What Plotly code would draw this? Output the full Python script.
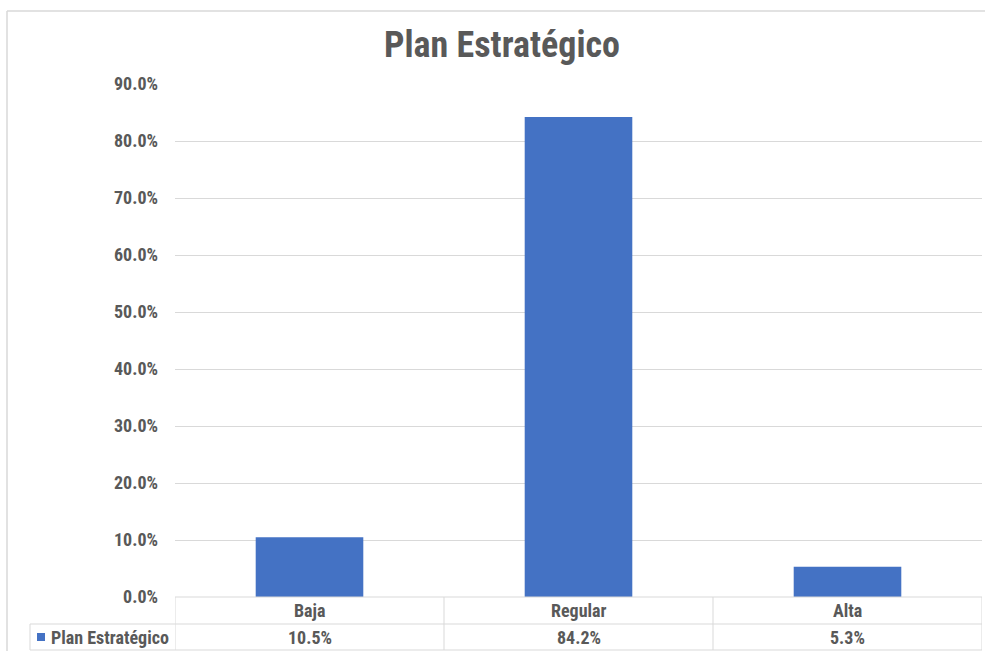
import plotly.graph_objects as go

# Chart data
categories = ["Baja", "Regular", "Alta"]
values = [10.5, 84.2, 5.3]
series_name = "Plan Estratégico"
title_text = "Plan Estratégico"
y_ticks = [0, 10, 20, 30, 40, 50, 60, 70, 80, 90]

W, H = 985, 651
PLOT_L, PLOT_R, PLOT_T, PLOT_B = 175, 982, 84, 597
BAR_COLOR = "#4472C4"
TEXT_COLOR = "#595959"
GRID_COLOR = "#D9D9D9"
FONT = "Liberation Sans Narrow, Arial Narrow, Roboto Condensed, Arial, sans-serif"
TICK_SIZE = 18
TABLE_SIZE = 18

pw = PLOT_R - PLOT_L
ph = PLOT_B - PLOT_T


def px_x(x):
    return (x - PLOT_L) / pw


def px_y(y):
    return (PLOT_B - y) / ph


fig = go.Figure()
fig.add_trace(go.Bar(
    x=list(range(len(categories))),
    y=values,
    name=series_name,
    marker=dict(color=BAR_COLOR, line=dict(width=0)),
    width=0.4,
    showlegend=False,
    hoverinfo="skip",
))

shapes = []
annotations = []

# outer chart border (left and top edges)
shapes.append(dict(type="line", xref="paper", yref="paper",
                   x0=px_x(7), x1=px_x(990), y0=px_y(11), y1=px_y(11),
                   line=dict(color="#D9D9D9", width=1.5)))
shapes.append(dict(type="line", xref="paper", yref="paper",
                   x0=px_x(7), x1=px_x(7), y0=px_y(11), y1=px_y(660),
                   line=dict(color="#D9D9D9", width=1.5)))

# data table grid
row1_y, row2_y, row3_y = PLOT_B, 624, 650
tbl_line = dict(color=GRID_COLOR, width=1)
shapes.append(dict(type="line", xref="paper", yref="paper",
                   x0=0, x1=1, y0=px_y(row1_y), y1=px_y(row1_y), line=tbl_line))
for yy in (row2_y, row3_y):
    shapes.append(dict(type="line", xref="paper", yref="paper",
                       x0=px_x(30), x1=1, y0=px_y(yy), y1=px_y(yy), line=tbl_line))
shapes.append(dict(type="line", xref="paper", yref="paper",
                   x0=px_x(30), x1=px_x(30), y0=px_y(row2_y), y1=px_y(row3_y), line=tbl_line))
for i in range(len(categories) + 1):
    shapes.append(dict(type="line", xref="x", yref="paper",
                       x0=i - 0.5, x1=i - 0.5, y0=px_y(row1_y), y1=px_y(row3_y), line=tbl_line))

# legend key inside table
shapes.append(dict(type="rect", xref="paper", yref="paper",
                   x0=px_x(37), x1=px_x(45), y0=px_y(641), y1=px_y(633),
                   fillcolor=BAR_COLOR, line=dict(width=0)))
annotations.append(dict(xref="paper", yref="paper", x=px_x(49), y=px_y(637),
                        text=f"<b>{series_name}</b>", showarrow=False,
                        xanchor="left", yanchor="middle",
                        font=dict(family=FONT, size=TABLE_SIZE, color=TEXT_COLOR)))

for i, (cat, val) in enumerate(zip(categories, values)):
    annotations.append(dict(xref="x", yref="paper", x=i, y=px_y(610.5),
                            text=f"<b>{cat}</b>", showarrow=False, yanchor="middle",
                            font=dict(family=FONT, size=TABLE_SIZE, color=TEXT_COLOR)))
    annotations.append(dict(xref="x", yref="paper", x=i, y=px_y(637),
                            text=f"<b>{val:.1f}%</b>", showarrow=False, yanchor="middle",
                            font=dict(family=FONT, size=TABLE_SIZE, color=TEXT_COLOR)))

fig.update_layout(
    width=W, height=H,
    margin=dict(l=PLOT_L, r=W - PLOT_R, t=PLOT_T, b=H - PLOT_B),
    paper_bgcolor="white", plot_bgcolor="white",
    title=dict(text=f"<b>{title_text}</b>", x=502 / W, xanchor="center",
               y=1 - 44 / H, yanchor="middle",
               font=dict(family=FONT, size=36, color=TEXT_COLOR)),
    xaxis=dict(range=[-0.5, len(categories) - 0.5], showticklabels=False,
               showgrid=False, zeroline=False, showline=False, fixedrange=True),
    yaxis=dict(range=[0, 90], tickvals=y_ticks,
               ticktext=[f"<b>{v:.1f}%</b>" for v in y_ticks],
               showgrid=True, gridcolor=GRID_COLOR, gridwidth=1,
               zeroline=False, showline=False, ticks="", ticklabelstandoff=16,
               tickfont=dict(family=FONT, size=TICK_SIZE, color=TEXT_COLOR), fixedrange=True),
    shapes=shapes,
    annotations=annotations,
    bargap=0.6,
)

fig.write_html("out.html")
